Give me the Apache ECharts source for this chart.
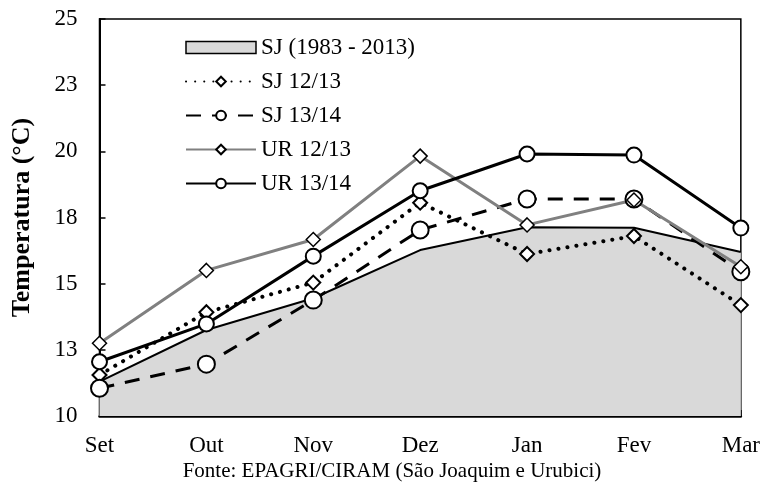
<!DOCTYPE html>
<html>
<head>
<meta charset="utf-8">
<script src="https://cdn.jsdelivr.net/npm/echarts@6/dist/echarts.min.js"></script>
<style>
html, body { margin: 0; padding: 0; background: #fff; }
#main { width: 763px; height: 485px; }
</style>
</head>
<body>
<div id="main"></div>
<script>
// meses
var months = ['Set', 'Out', 'Nov', 'Dez', 'Jan', 'Fev', 'Mar'];
// normal climatologica SJ
var sjNormal = [11.3, 13.25, 14.45, 16.27, 17.13, 17.11, 16.2];
var sj1213 = [11.55, 13.92, 15.04, 18.06, 16.12, 16.8, 14.19];
var sj1314 = [11.05, 11.96, 14.38, 17.03, 18.2, 18.2, 15.45];
var ur1213 = [12.75, 15.5, 16.67, 19.82, 17.22, 18.16, 15.64];
var ur1314 = [12.05, 13.48, 16.04, 18.51, 19.9, 19.86, 17.1];

var font = 'Liberation Serif';
var myChart = echarts.init(document.getElementById('main'));

var whiteMark = { color: '#fff', borderColor: '#000', borderWidth: 2 };

option = {
    animation: false,
    textStyle: { fontFamily: font },
    grid: {
        left: 99.5, right: 22, top: 19, bottom: 69,
        show: true, borderColor: '#000', borderWidth: 1.5
    },
    legend: {
        orient: 'vertical',
        left: 180,
        top: 31,
        itemWidth: 70,
        itemHeight: 12,
        itemGap: 11,
        textStyle: { fontFamily: font, fontSize: 23, color: '#000' },
        data: [
            { name: 'SJ (1983 - 2013)', icon: 'rect', itemStyle: { color: '#d9d9d9', borderColor: '#000', borderWidth: 1.5 } },
            'SJ 12/13', 'SJ 13/14', 'UR 12/13', 'UR 13/14'
        ]
    },
    xAxis: {
        type: 'category',
        data: months,
        boundaryGap: false,
        axisLine: { lineStyle: { color: '#000', width: 2.5 } },
        axisTick: { inside: true, length: 6, lineStyle: { color: '#000', width: 1.5 } },
        axisLabel: { color: '#000', fontSize: 23, fontFamily: font, margin: 18 }
    },
    yAxis: {
        type: 'value',
        min: 10, max: 25, interval: 2.5,
        name: 'Temperatura (°C)',
        nameLocation: 'middle',
        nameGap: 64,
        nameTextStyle: { fontFamily: font, fontSize: 26, fontWeight: 'bold', color: '#000' },
        axisLine: { show: true, lineStyle: { color: '#000', width: 2 } },
        axisTick: { show: true, inside: true, length: 6, lineStyle: { color: '#000', width: 1.5 } },
        splitLine: { show: false },
        axisLabel: {
            color: '#000', fontSize: 23, fontFamily: font, margin: 22,
            formatter: function (v) { return Math.round(v); }
        }
    },
    graphic: [{
        type: 'text',
        x: 392,
        y: 461,
        style: {
            text: 'Fonte: EPAGRI/CIRAM (São Joaquim e Urubici)',
            font: '21px "Liberation Serif"', fill: '#000', align: 'center'
        }
    }],
    series: [
        {
            name: 'SJ (1983 - 2013)', type: 'line', data: sjNormal,
            symbol: 'none',
            lineStyle: { color: '#000', width: 2 },
            itemStyle: { color: '#d9d9d9' },
            areaStyle: { color: '#d9d9d9', opacity: 1 },
            z: 1
        },
        {
            name: 'SJ 12/13', type: 'line', data: sj1213,
            symbol: 'diamond', symbolSize: 14,
            lineStyle: { color: '#000', width: 4, type: [0.1, 9], cap: 'round' },
            itemStyle: whiteMark, z: 3
        },
        {
            name: 'SJ 13/14', type: 'line', data: sj1314,
            symbol: 'circle', symbolSize: 17,
            lineStyle: { color: '#000', width: 3, type: [15, 11] },
            itemStyle: whiteMark, z: 3
        },
        {
            name: 'UR 12/13', type: 'line', data: ur1213,
            symbol: 'diamond', symbolSize: 14,
            lineStyle: { color: '#808080', width: 3 },
            itemStyle: { color: '#fff', borderColor: '#000', borderWidth: 1.5 }, z: 3
        },
        {
            name: 'UR 13/14', type: 'line', data: ur1314,
            symbol: 'circle', symbolSize: 15,
            lineStyle: { color: '#000', width: 3 },
            itemStyle: whiteMark, z: 4
        }
    ]
};
myChart.setOption(option);
</script>
</body>
</html>
